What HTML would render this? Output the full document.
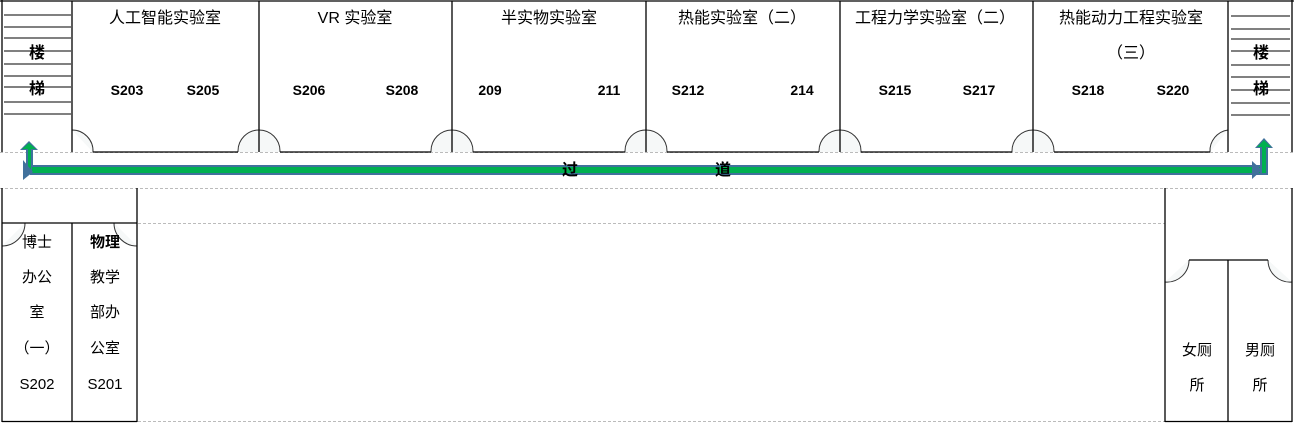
<!DOCTYPE html>
<html><head><meta charset="utf-8"><style>
html,body{margin:0;padding:0;background:#fff;}
svg{display:block;}
text{font-family:"Liberation Sans","Noto Sans CJK SC",sans-serif;fill:#000;}
.t{font-size:16px;}
.n{font-size:14px;font-weight:bold;}
.c{font-size:15px;font-family:"Liberation Serif","Noto Serif CJK SC",serif;}
</style></head><body>
<svg width="1294" height="424" viewBox="0 0 1294 424" xmlns="http://www.w3.org/2000/svg">
<g stroke="#bbb" stroke-width="1" stroke-dasharray="3,2" fill="none">
<line x1="0" y1="152.5" x2="1294" y2="152.5"/>
<line x1="0" y1="188.5" x2="1294" y2="188.5"/>
<line x1="138" y1="223.5" x2="1165" y2="223.5"/>
<line x1="138" y1="421.5" x2="1165" y2="421.5"/>
</g>
<!-- door fills -->
<g fill="#f6f8f8" stroke="#333" stroke-width="1">
<path d="M72,130 A21,21 0 0 1 93,152"/>
<path d="M238,152 V151 A21,21 0 0 1 280,151 V152"/>
<path d="M431,152 V151 A21,21 0 0 1 473,151 V152"/>
<path d="M625,152 V151 A21,21 0 0 1 667,151 V152"/>
<path d="M819,152 V151 A21,21 0 0 1 861,151 V152"/>
<path d="M1012,152 V151 A21,21 0 0 1 1054,151 V152"/>
<path d="M1210,152 A21,21 0 0 1 1228,130"/>
<path d="M2,246 A23,23 0 0 0 25,223"/>
<path d="M114,223 A23,23 0 0 0 137,246"/>
<path d="M1165,282 A22,22 0 0 0 1189,260"/>
<path d="M1268,260 A22,22 0 0 0 1292,282"/>
</g>
<g stroke="#000" stroke-width="1.3" fill="none">
<line x1="0" y1="1" x2="1294" y2="1"/>
<line x1="2" y1="0" x2="2" y2="152"/>
<line x1="1292" y1="0" x2="1292" y2="152"/>
<line x1="72" y1="1" x2="72" y2="152"/>
<line x1="259" y1="1" x2="259" y2="152"/>
<line x1="452" y1="1" x2="452" y2="152"/>
<line x1="646" y1="1" x2="646" y2="152"/>
<line x1="840" y1="1" x2="840" y2="152"/>
<line x1="1033" y1="1" x2="1033" y2="152"/>
<line x1="1228" y1="1" x2="1228" y2="152"/>
<line x1="93" y1="152" x2="238" y2="152"/>
<line x1="280" y1="152" x2="431" y2="152"/>
<line x1="473" y1="152" x2="625" y2="152"/>
<line x1="667" y1="152" x2="819" y2="152"/>
<line x1="861" y1="152" x2="1012" y2="152"/>
<line x1="1054" y1="152" x2="1210" y2="152"/>
<!-- bottom left -->
<line x1="2" y1="188" x2="2" y2="422"/>
<line x1="137" y1="188" x2="137" y2="422"/>
<line x1="72" y1="223" x2="72" y2="422"/>
<line x1="2" y1="223" x2="137" y2="223"/>
<line x1="2" y1="421.5" x2="137" y2="421.5"/>
<!-- bottom right -->
<line x1="1165" y1="188" x2="1165" y2="422"/>
<line x1="1292" y1="188" x2="1292" y2="422"/>
<line x1="1228" y1="260" x2="1228" y2="422"/>
<line x1="1189" y1="260" x2="1268" y2="260"/>
<line x1="1165" y1="421.5" x2="1292" y2="421.5"/>
</g>
<g stroke="#000" stroke-width="1">
<line x1="4" y1="15" x2="71" y2="15"/><line x1="4" y1="27" x2="71" y2="27"/><line x1="4" y1="38" x2="71" y2="38"/>
<line x1="4" y1="51" x2="71" y2="51"/><line x1="4" y1="64" x2="71" y2="64"/><line x1="4" y1="76" x2="71" y2="76"/>
<line x1="4" y1="87" x2="71" y2="87"/><line x1="4" y1="102" x2="71" y2="102"/><line x1="4" y1="114" x2="71" y2="114"/>
<line x1="1231" y1="16" x2="1290" y2="16"/><line x1="1231" y1="29" x2="1290" y2="29"/><line x1="1231" y1="39" x2="1290" y2="39"/>
<line x1="1231" y1="51" x2="1290" y2="51"/><line x1="1231" y1="65" x2="1290" y2="65"/><line x1="1231" y1="77" x2="1290" y2="77"/>
<line x1="1231" y1="90" x2="1290" y2="90"/><line x1="1231" y1="103" x2="1290" y2="103"/><line x1="1231" y1="115" x2="1290" y2="115"/>
</g>
<!-- green route arrow -->
<path d="M30,175 L30,178 L23,170 L23,150 L19,150 L29,140 L39,150 L33,150 L33,166 L1252,166 L1252,150 L1253,146 L1257,146 L1257,150 L1257,146 L1252,146 L1264,135 L1274,146 L1269,146 L1269,174 L1258,174 L1258,178 L1252,174 L33,174 Z" fill="none"/>
<g>
<rect x="30" y="165" width="1236" height="10" fill="#41719c"/>
<rect x="32" y="167" width="1232" height="6" fill="#00b050"/>
<polygon points="20,150 29,141 38,150 33,150 33,167 26,167 26,150" fill="#41719c"/>
<polygon points="22,149 29,143 36,149 31,149 31,169 28,169 28,149" fill="#00b050"/>
<polygon points="23,160 23,180 33,172" fill="#41719c"/>
<polygon points="1255,148 1264,138 1273,148 1268,148 1268,175 1260,175 1260,148" fill="#41719c"/>
<polygon points="1257,147 1264,140 1271,147 1266,147 1266,173 1262,173 1262,147" fill="#00b050"/>
<polygon points="1252,161 1252,179 1262,170" fill="#41719c"/>
</g>
<g class="t">
<text x="165" y="23" text-anchor="middle">人工智能实验室</text>
<text x="355" y="23" text-anchor="middle">VR 实验室</text>
<text x="549" y="23" text-anchor="middle">半实物实验室</text>
<text x="742" y="23" text-anchor="middle">热能实验室（二）</text>
<text x="935" y="23" text-anchor="middle">工程力学实验室（二）</text>
<text x="1131" y="23" text-anchor="middle">热能动力工程实验室</text>
<text x="1131" y="58" text-anchor="middle">（三）</text>
<text x="570" y="175" text-anchor="middle" font-weight="bold">过</text>
<text x="723" y="175" text-anchor="middle" font-weight="bold">道</text>
<text x="37" y="58" text-anchor="middle" font-weight="bold">楼</text>
<text x="37" y="94" text-anchor="middle" font-weight="bold">梯</text>
<text x="1261" y="58" text-anchor="middle" font-weight="bold">楼</text>
<text x="1261" y="94" text-anchor="middle" font-weight="bold">梯</text>
</g>
<g class="n" text-anchor="middle">
<text x="127" y="95">S203</text><text x="203" y="95">S205</text>
<text x="309" y="95">S206</text><text x="402" y="95">S208</text>
<text x="490" y="95">209</text><text x="609" y="95">211</text>
<text x="688" y="95">S212</text><text x="802" y="95">214</text>
<text x="895" y="95">S215</text><text x="979" y="95">S217</text>
<text x="1088" y="95">S218</text><text x="1173" y="95">S220</text>
</g>
<g class="c" text-anchor="middle">
<text x="37" y="247">博士</text><text x="37" y="282">办公</text><text x="37" y="317">室</text><text x="37" y="353">（一）</text><text x="37" y="389">S202</text>
<text x="105" y="247" font-weight="bold">物理</text><text x="105" y="282">教学</text><text x="105" y="317">部办</text><text x="105" y="353">公室</text><text x="105" y="389">S201</text>
<text x="1197" y="355">女厕</text><text x="1197" y="390">所</text>
<text x="1260" y="355">男厕</text><text x="1260" y="390">所</text>
</g>
</svg>
</body></html>
